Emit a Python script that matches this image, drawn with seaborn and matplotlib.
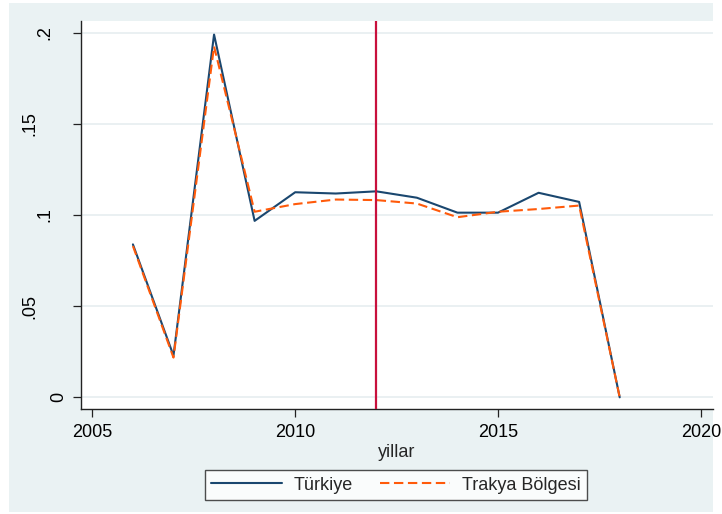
import matplotlib
matplotlib.use("Agg")
import matplotlib.pyplot as plt
import matplotlib.transforms as mtransforms
import seaborn as sns
import pandas as pd
from matplotlib.patches import Rectangle
from matplotlib.lines import Line2D

years = [2006, 2007, 2008, 2009, 2010, 2011, 2012, 2013, 2014, 2015, 2016, 2017, 2018]
turkiye = [0.0839, 0.0229, 0.1990, 0.0968, 0.1125, 0.1118, 0.1130, 0.1095, 0.1013, 0.1013, 0.1122, 0.1072, 0.0]
trakya = [0.0830, 0.0218, 0.1925, 0.1018, 0.1060, 0.1085, 0.1082, 0.1063, 0.0988, 0.1018, 0.1033, 0.1052, 0.0]
series_names = ["Türkiye", "Trakya Bölgesi"]
xticks = [2005, 2010, 2015, 2020]
yticks = [0, 0.05, 0.1, 0.15, 0.2]
ytick_labels = ["0", ".05", ".1", ".15", ".2"]
vline_year = 2012
xlabel = "yillar"

df = pd.concat([
    pd.DataFrame({"yil": years, "deger": turkiye, "seri": series_names[0]}),
    pd.DataFrame({"yil": years, "deger": trakya, "seri": series_names[1]}),
])

sns.set_style("white")
plt.rcParams["font.family"] = ["Liberation Sans", "DejaVu Sans"]

W, H = 722, 514
fig = plt.figure(figsize=(W / 100, H / 100), dpi=100, facecolor="white")
bg = Rectangle((9 / W, 2.5 / H), (713 - 9) / W, (511.5 - 2.5) / H,
               transform=fig.transFigure, facecolor="#EAF2F3", edgecolor="none", zorder=-10)
fig.patches.append(bg)

ax = fig.add_axes([81 / W, (H - 409) / H, (713 - 81) / W, (409 - 20.7) / H])
ax.set_facecolor("white")

palette = {series_names[0]: "#1A476F", series_names[1]: "#FF5A0A"}
dashes = {series_names[0]: "", series_names[1]: (4.5, 2.2)}
sns.lineplot(data=df, x="yil", y="deger", hue="seri", style="seri",
             palette=palette, dashes=dashes, linewidth=1.5, ax=ax, legend=False,
             hue_order=series_names, style_order=series_names)
ax.axvline(vline_year, color="#C8103C", linewidth=1.6, zorder=5)

ax.set_xlim(2004.72, 2020.30)
ax.set_ylim(-0.0064, 0.2066)
ax.set_xticks(xticks)
ax.set_xticklabels([str(x) for x in xticks])
ax.set_yticks(yticks)
ax.grid(axis="y", color="#E6EEF0", linewidth=1.2)
ax.grid(axis="x", visible=False)
ax.set_axisbelow(True)

for s in ["top", "right"]:
    ax.spines[s].set_visible(False)
for s in ["left", "bottom"]:
    ax.spines[s].set_color("#222222")
    ax.spines[s].set_linewidth(1.0)

ax.tick_params(axis="both", which="major", direction="out", length=6, width=0.9,
               color="#222222", labelsize=13, labelcolor="black",
               bottom=True, left=True)
ax.tick_params(axis="x", pad=4.5)
ax.tick_params(axis="y", labelleft=False)

# Stata-style rotated y labels: offset from axis grows with label length
for val, lab in zip(yticks, ytick_labels):
    dx_px = -22 - 14.5 * (len(lab) - 1)
    tr = ax.get_yaxis_transform() + mtransforms.ScaledTranslation(dx_px / 100, 0, fig.dpi_scale_trans)
    ax.text(0, val, lab, transform=tr, rotation=90, ha="center", va="center",
            fontsize=13, color="black", clip_on=False)

ax.set_xlabel(xlabel, fontsize=13, labelpad=2.5)
ax.set_ylabel("")

handles = [Line2D([], [], color=palette[series_names[0]], linewidth=1.5),
           Line2D([], [], color=palette[series_names[1]], linewidth=1.5, dashes=(4.5, 2.2))]
leg = fig.legend(handles, series_names, loc="center", bbox_to_anchor=(396 / W, (H - 485) / H),
                 ncol=2, fontsize=13, frameon=True, fancybox=False, handlelength=3.9,
                 handletextpad=0.65, columnspacing=1.5, borderpad=0.35, borderaxespad=0)
leg.get_frame().set_edgecolor("#222222")
leg.get_frame().set_linewidth(1.0)
leg.get_frame().set_facecolor("white")

fig.savefig("out.png", dpi=100, facecolor="white")
